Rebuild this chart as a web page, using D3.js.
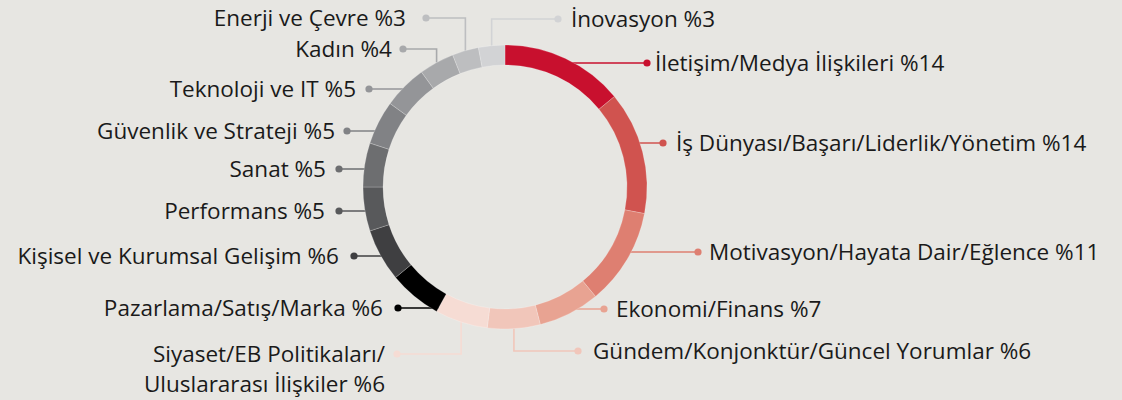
<!DOCTYPE html>
<html>
<head>
<meta charset="utf-8">
<script src="https://cdn.jsdelivr.net/npm/d3@7"></script>
<style>
  html, body { margin: 0; padding: 0; background: #e7e6e2; }
  svg { display: block; }
  .lbl { font-family: "Open Sans", "Noto Sans", sans-serif; font-size: 22.5px; fill: #1a1a1a; }
</style>
</head>
<body>
<div id="chart"></div>
<script>
// topic shares, clockwise from 12 o'clock
const categories = [
    "İletişim/Medya İlişkileri", "İş Dünyası/Başarı/Liderlik/Yönetim", "Motivasyon/Hayata Dair/Eğlence",
    "Ekonomi/Finans", "Gündem/Konjonktür/Güncel Yorumlar", "Siyaset/EB Politikaları/|Uluslararası İlişkiler",
    "Pazarlama/Satış/Marka", "Kişisel ve Kurumsal Gelişim", "Performans", "Sanat",
    "Güvenlik ve Strateji", "Teknoloji ve IT", "Kadın", "Enerji ve Çevre", "İnovasyon"
];
const values = [14, 14, 11, 7, 6, 6, 6, 6, 5, 5, 5, 5, 4, 3, 3];

const colors = [
    "#c8102e", "#d0534f", "#de7f71", "#e8a392", "#f1c6ba", "#f6dcd4",
    "#000000", "#3f3f41", "#58595b", "#6d6e70", "#818285", "#949598",
    "#a8a9ab", "#bdbec0", "#d2d3d5"
];

// label anchor (dot) positions, text gap and leader style; "v" = goes straight up/down from the segment first
const labelLayout = [
    { x: 647, y: 63, gap: 8, bend: "h" },
    { x: 663, y: 143, gap: 13, bend: "h" },
    { x: 698, y: 252, gap: 11, bend: "h" },
    { x: 604, y: 309, gap: 12, bend: "h" },
    { x: 578, y: 351, gap: 15, bend: "v" },
    { x: 397, y: 354, gap: 12, bend: "v" },
    { x: 398, y: 308, gap: 15, bend: "h" },
    { x: 354, y: 256, gap: 15, bend: "h" },
    { x: 339, y: 211, gap: 14, bend: "h" },
    { x: 339, y: 169, gap: 13, bend: "h" },
    { x: 347, y: 131, gap: 12, bend: "h" },
    { x: 369, y: 89, gap: 13, bend: "h" },
    { x: 403, y: 49, gap: 11, bend: "v" },
    { x: 426, y: 18, gap: 20, bend: "v" },
    { x: 558, y: 19, gap: 13, bend: "v" }
];

const width = 1122, height = 400;
const cx = 505, cy = 187;
const outerR = 142, innerR = 122;

const svg = d3.select("#chart").append("svg")
    .attr("width", width)
    .attr("height", height);

const rows = categories.map((c, i) => ({
    name: c, value: values[i], color: colors[i], pos: labelLayout[i]
}));

const pie = d3.pie()
    .value(d => d.value)
    .sort(null);

const arcs = pie(rows);

const arc = d3.arc()
    .innerRadius(innerR)
    .outerRadius(outerR);

// leader lines first, ring on top
const leaders = svg.append("g").attr("class", "leaders");
const midR = (innerR + outerR) / 2;

arcs.forEach(a => {
    const d = a.data;
    const p = d.pos;
    const mid = (a.startAngle + a.endAngle) / 2;
    let pts;
    if (p.bend === "v") {
        const sx = cx + outerR * Math.sin(mid);
        const sy = cy - outerR * Math.cos(mid);
        pts = [[sx, sy], [sx, p.y], [p.x, p.y]];
    } else {
        const dy = p.y - cy;
        const dx = Math.sqrt(Math.max(0, midR * midR - dy * dy));
        const ex = p.x < cx ? cx - dx : cx + dx;
        pts = [[ex, p.y], [p.x, p.y]];
    }
    leaders.append("path")
        .attr("d", d3.line()(pts))
        .attr("fill", "none")
        .attr("stroke", d.color)
        .attr("stroke-width", 1.6);
    leaders.append("circle")
        .attr("cx", p.x)
        .attr("cy", p.y)
        .attr("r", 3.6)
        .attr("fill", d.color);
});

svg.append("g")
    .attr("transform", `translate(${cx},${cy})`)
    .selectAll("path")
    .data(arcs)
    .join("path")
    .attr("d", arc)
    .attr("fill", d => d.data.color)
    .attr("stroke", "rgba(255,255,255,0.35)")
    .attr("stroke-width", 0.6);

// labels
const labels = svg.append("g");
arcs.forEach(a => {
    const d = a.data;
    const p = d.pos;
    const right = p.x > cx + 40 || (p.bend === "v" && p.x > cx);
    const tx = right ? p.x + p.gap : p.x - p.gap;
    const lines = d.name.split("|");
    const t = labels.append("text")
        .attr("class", "lbl")
        .attr("text-anchor", right ? "start" : "end")
        .attr("x", tx)
        .attr("y", p.y + 8);
    lines.forEach((ln, i) => {
        const txt = i === lines.length - 1 ? `${ln} %${d.value}` : ln;
        t.append("tspan")
            .attr("x", tx)
            .attr("dy", i === 0 ? 0 : 30)
            .text(txt);
    });
});
</script>
</body>
</html>
